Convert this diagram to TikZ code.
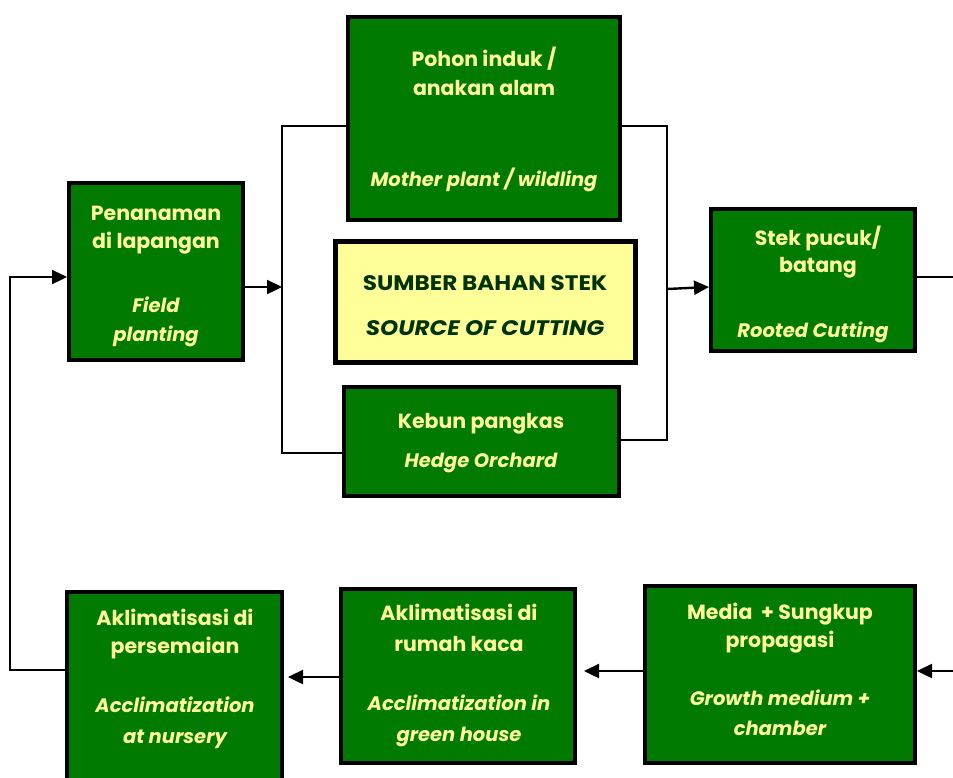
\documentclass[tikz,border=0pt]{standalone}
\usepackage{fontspec}
\setmainfont{Poppins}
\newfontfamily\widefont[FakeStretch=1.1]{Poppins}
\usetikzlibrary{arrows.meta}
\definecolor{boxgreen}{RGB}{0,122,0}
\definecolor{txtyellow}{RGB}{255,255,153}
\definecolor{darkgreen}{RGB}{0,51,0}
\begin{document}
\begin{tikzpicture}[x=1pt,y=-1pt,
  gbox/.style={draw=black, line width=4pt, fill=boxgreen, inner sep=0pt},
  ybox/.style={gbox, line width=5pt, fill=txtyellow},
  tl/.style={anchor=base, inner sep=0pt, text=txtyellow, font=\fontsize{20.5}{24}\selectfont\bfseries},
  til/.style={tl, font=\fontsize{19.5}{24}\selectfont\bfseries\itshape},
  stl/.style={anchor=base, inner sep=0pt, text=darkgreen, font=\widefont\fontsize{21}{24}\selectfont\bfseries},
  conn/.style={line width=2.4pt},
  arr/.style={conn, -{Triangle[length=15pt,width=14pt]}}]
\useasboundingbox (0,0) rectangle (953,777);

% boxes
\node[gbox, minimum width=272pt, minimum height=203pt] (pohon) at (484,118.5) {};
\node[ybox, minimum width=300pt, minimum height=121pt] (sumber) at (485,301.5) {};
\node[gbox, minimum width=275pt, minimum height=109pt] (kebun) at (481.5,441.5) {};
\node[gbox, minimum width=174pt, minimum height=177pt] (penanaman) at (156,271.5) {};
\node[gbox, minimum width=204pt, minimum height=142pt] (stek) at (813,280) {};
\node[gbox, minimum width=270pt, minimum height=177pt] (media) at (780,674.5) {};
\node[gbox, minimum width=234pt, minimum height=174pt] (rumah) at (458,676) {};
\node[gbox, minimum width=215pt, minimum height=210pt] (persemaian) at (174.5,697) {};

% texts
\node[tl] (pohon1) at (484,66) {Pohon induk /};
\node[tl] (pohon2) at (484,95) {anakan alam};
\node[til] (pohon3) at (484,186) {Mother plant / wildling};

\node[stl] (sumber1) at (485,290) {SUMBER BAHAN STEK};
\node[stl, font=\widefont\fontsize{21}{24}\selectfont\bfseries\itshape] (sumber2) at (485,335) {SOURCE OF CUTTING};

\node[tl] (kebun1) at (481,428) {Kebun pangkas};
\node[til] (kebun2) at (481,467) {Hedge Orchard};

\node[tl] (pen1) at (156,220) {Penanaman};
\node[tl] (pen2) at (156,248) {di lapangan};
\node[til] (pen3) at (156,312) {Field};
\node[til] (pen4) at (156,341) {planting};

\node[tl] (stek1) at (818,245) {Stek pucuk/};
\node[tl] (stek2) at (818,272) {batang};
\node[til] (stek3) at (813,337) {Rooted Cutting};

\node[tl] (media1) at (780,619) {Media \ + Sungkup};
\node[tl] (media2) at (780,647) {propagasi};
\node[til] (media3) at (780,705) {Growth medium +};
\node[til] (media4) at (780,735) {chamber};

\node[tl] (rumah1) at (459,620) {Aklimatisasi di};
\node[tl] (rumah2) at (459,651) {rumah kaca};
\node[til] (rumah3) at (459,710) {Acclimatization in};
\node[til] (rumah4) at (459,741) {green house};

\node[tl] (pers1) at (175,625) {Aklimatisasi di};
\node[tl] (pers2) at (175,653) {persemaian};
\node[til] (pers3) at (175,712) {Acclimatization};
\node[til] (pers4) at (175,743) {at nursery};

% connector points
\coordinate (lb1) at (282,126);
\coordinate (lb2) at (282,453);
\coordinate (lbm) at (282,287);
\coordinate (rb1) at (667,126);
\coordinate (rb2) at (667,440);
\coordinate (rbm) at (667,289);
\coordinate (offr) at (953,277);
\coordinate (inr) at (953,671);
\coordinate (m2r) at (584,671);
\coordinate (r2p) at (288,677);
\coordinate (lp1) at (10,670);
\coordinate (lp2) at (10,277);

% connectors
\draw[conn] (pohon.west |- lb1) -- (lb1) -- (lb2) -- (kebun.west |- lb2);
\draw[conn] (pohon.east |- rb1) -- (rb1) -- (rb2) -- (kebun.east |- rb2);
\draw[arr] (penanaman.east |- lbm) -- (lbm);
\draw[arr] (rbm) -- ([yshift=-7pt]stek.west);
\draw[conn] ([yshift=3pt]stek.east) -- (offr);
\draw[arr] (inr) -- (media.east |- inr);
\draw[arr] (media.west |- m2r) -- (m2r);
\draw[arr] (rumah.west |- r2p) -- (r2p);
\draw[arr] (persemaian.west |- lp1) -- (lp1) -- (lp2) -- (penanaman.west |- lp2);
\end{tikzpicture}
\end{document}
